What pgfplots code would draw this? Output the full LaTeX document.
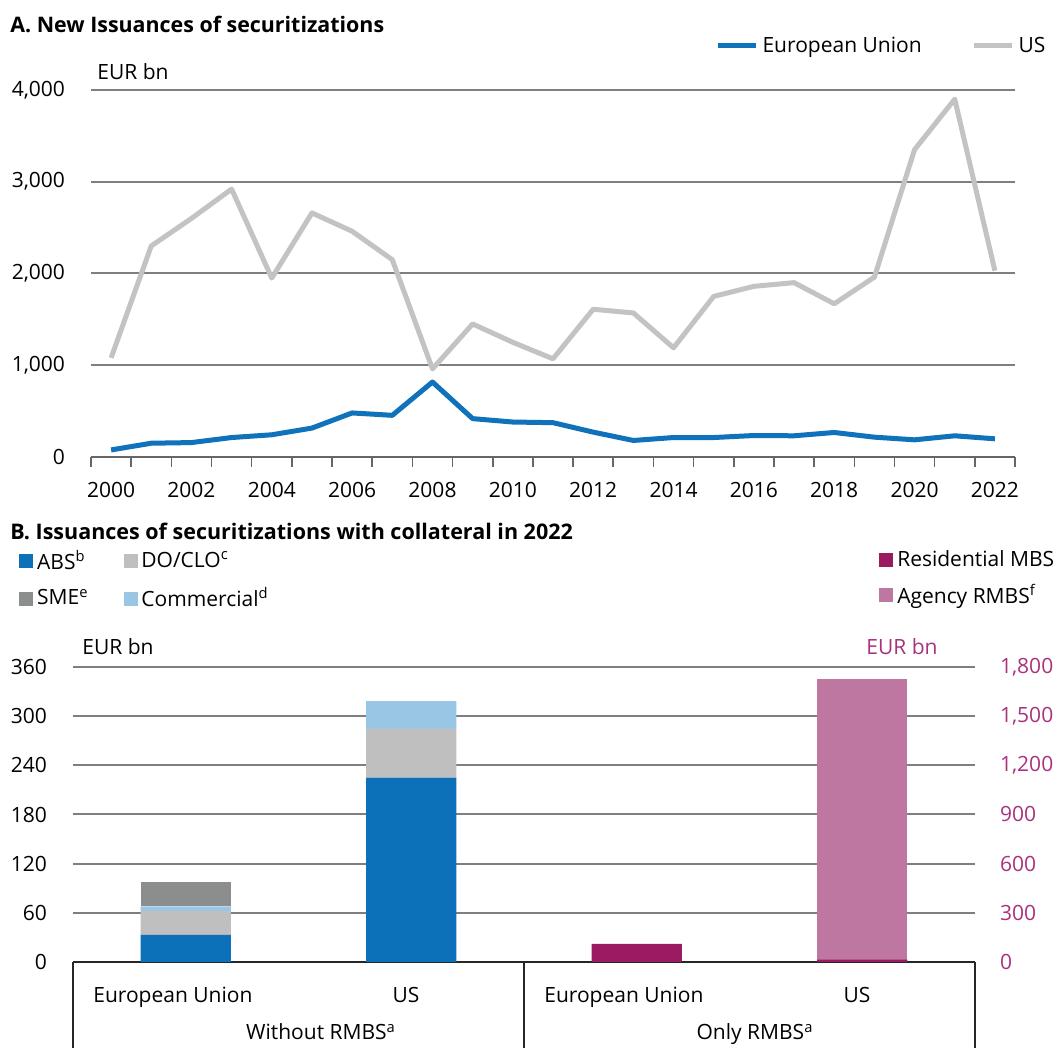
\documentclass[border=0pt]{standalone}
\usepackage{fontspec}
\setmainfont{Open Sans}
\usepackage{pgfplots}
\pgfplotsset{compat=1.18}
\definecolor{eublue}{HTML}{0F72BA}
\definecolor{usgray}{HTML}{C3C3C3}
\definecolor{absblue}{HTML}{0C71B9}
\definecolor{doclo}{HTML}{BFBFBF}
\definecolor{sme}{HTML}{8C8E8D}
\definecolor{comm}{HTML}{9AC6E6}
\definecolor{resmbs}{HTML}{9B1B63}
\definecolor{agency}{HTML}{BE77A0}
\definecolor{purp}{HTML}{A8327E}
\definecolor{gridc}{HTML}{7F7F7F}
\newcommand{\lbl}{\fontsize{10.5}{12.5}\selectfont}
\pgfplotsset{
  common/.style={
    scale only axis, anchor=south west, clip=false,
    tick label style={font=\lbl},
    /pgf/number format/assume math mode=true,
    /pgf/number format/1000 sep={,},
    major tick length=0pt,
    ymajorgrids, major grid style={gridc, line width=1pt},
    y axis line style={draw=none},
    legend cell align=left,
  }
}
\begin{document}
\begin{tikzpicture}
\useasboundingbox (0pt,0pt) rectangle (530.5pt,524pt);
\node[anchor=base west, inner sep=0pt, font=\bfseries\fontsize{10.7}{12}\selectfont] at (5pt,507.5pt) {A. New Issuances of securitizations};
\node[anchor=base west, inner sep=0pt, font=\bfseries\fontsize{10.75}{12}\selectfont] at (5pt,254pt) {B. Issuances of securitizations with collateral in 2022};

% ---------------- Panel A
\begin{axis}[common,
  at={(45.5pt,295.5pt)}, width=462pt, height=183.5pt,
  xmin=-0.5, xmax=22.5, ymin=0, ymax=4000,
  axis x line*=bottom, axis y line*=left,
  x axis line style={draw=black!60, line width=1pt},
  xtick={0,2,...,22},
  xticklabels={2000,2002,2004,2006,2008,2010,2012,2014,2016,2018,2020,2022},
  minor xtick={-0.5,0.5,...,22.5},
  tick align=outside, minor tick length=5pt,
  minor tick style={black!60, line width=0.8pt},
  ytick={0,1000,2000,3000,4000},
  yticklabel style={xshift=-9.5pt},
  xticklabel style={yshift=-9pt},
  reverse legend,
  legend columns=2,
  legend style={at={(0.669,1.12)}, anchor=west, draw=none, fill=none, font=\lbl,
    /tikz/every even column/.append style={column sep=23pt}},
  legend image code/.code={\draw[#1] (0pt,0pt) -- (19pt,0pt);},
]
\addplot[usgray, line width=2.5pt, line join=round] coordinates {
(0,1080)(1,2300)(2,2600)(3,2920)(4,1950)(5,2660)(6,2460)(7,2150)(8,960)(9,1450)(10,1250)(11,1070)(12,1610)(13,1570)(14,1190)(15,1750)(16,1860)(17,1900)(18,1670)(19,1960)(20,3350)(21,3900)(22,2030)};
\addlegendentry{US}
\addplot[eublue, line width=2.5pt, line join=round] coordinates {
(0,77)(1,150)(2,157)(3,212)(4,242)(5,315)(6,480)(7,454)(8,817)(9,418)(10,381)(11,374)(12,271)(13,180)(14,212)(15,212)(16,234)(17,231)(18,267)(19,216)(20,187)(21,231)(22,198)};
\addlegendentry{European Union}
\end{axis}
\node[anchor=base west, inner sep=0pt, font=\lbl] at (48.5pt,484pt) {EUR bn};

% ---------------- Panel B, left axis
\begin{axis}[common,
  at={(36.5pt,43pt)}, width=451pt, height=147.5pt,
  xmin=-0.5, xmax=3.5, ymin=0, ymax=360,
  ybar stacked, bar width=0.4,
  axis x line*=bottom, axis y line*=left,
  x axis line style={draw=black!85, line width=0.75pt},
  ytick={0,60,...,360},
  yticklabel style={xshift=-9.5pt},
  xtick={-0.057,0.977,1.943,2.977},
  xticklabels={European Union,US,European Union,US},
  xticklabel style={yshift=-9pt},
  legend columns=2,
  legend style={at={(-0.0666,1.424)}, anchor=north west, draw=none, fill=none, font=\lbl,
    /tikz/every even column/.append style={column sep=15.5pt}, row sep=3.5pt},
]
\addlegendimage{legend image code/.code={\fill[absblue] (0pt,-3.25pt) rectangle (6.5pt,3.25pt);}}
\addlegendentry{ABS\textsuperscript{b}}
\addlegendimage{legend image code/.code={\fill[doclo] (0pt,-3.25pt) rectangle (6.5pt,3.25pt);}}
\addlegendentry{DO/CLO\textsuperscript{c}}
\addlegendimage{legend image code/.code={\fill[sme] (0pt,-3.25pt) rectangle (6.5pt,3.25pt);}}
\addlegendentry{SME\textsuperscript{e}}
\addlegendimage{legend image code/.code={\fill[comm] (0pt,-3.25pt) rectangle (6.5pt,3.25pt);}}
\addlegendentry{Commercial\textsuperscript{d}}
\addplot[fill=absblue, draw=none] coordinates {(0,33) (1,225)};
\addplot[fill=doclo, draw=none] coordinates {(0,29.5) (1,59.5)};
\addplot[fill=comm, draw=none] coordinates {(0,5.5) (1,34)};
\addplot[fill=sme, draw=none] coordinates {(0,30) (1,0)};
\draw[black!85, line width=0.75pt] (axis cs:-0.5,0) -- ++(0pt,-60pt);
\draw[black!85, line width=0.75pt] (axis cs:1.5,0) -- ++(0pt,-60pt);
\draw[black!85, line width=0.75pt] (axis cs:3.5,0) -- ++(0pt,-60pt);
\end{axis}

% ---------------- Panel B, right axis
\begin{axis}[common,
  at={(36.5pt,43pt)}, width=451pt, height=147.5pt,
  xmin=-0.5, xmax=3.5, ymin=0, ymax=1800,
  ybar stacked, bar width=0.4,
  axis x line=none, axis y line*=right,
  ymajorgrids=false,
  ytick={0,300,...,1800},
  yticklabel style={xshift=9pt, text=purp},
  legend columns=1,
  legend style={at={(0.887,1.424)}, anchor=north west, draw=none, fill=none, font=\lbl, row sep=3.5pt},
]
\addlegendimage{legend image code/.code={\fill[resmbs] (0pt,-3.25pt) rectangle (6.5pt,3.25pt);}}
\addlegendentry{Residential MBS}
\addlegendimage{legend image code/.code={\fill[agency] (0pt,-3.25pt) rectangle (6.5pt,3.25pt);}}
\addlegendentry{Agency RMBS\textsuperscript{f}}
\addplot[fill=resmbs, draw=none] coordinates {(2,110) (3,15)};
\addplot[fill=agency, draw=none] coordinates {(2,0) (3,1710)};
\end{axis}
\node[anchor=base west, inner sep=0pt, font=\lbl] at (41pt,196.5pt) {EUR bn};
\node[anchor=base west, inner sep=0pt, font=\lbl, text=purp] at (433pt,196.5pt) {EUR bn};
\node[anchor=base, inner sep=0pt, font=\lbl] at (160.5pt,4pt) {Without RMBS\textsuperscript{a}};
\node[anchor=base, inner sep=0pt, font=\lbl] at (377.5pt,4pt) {Only RMBS\textsuperscript{a}};
\end{tikzpicture}
\end{document}
